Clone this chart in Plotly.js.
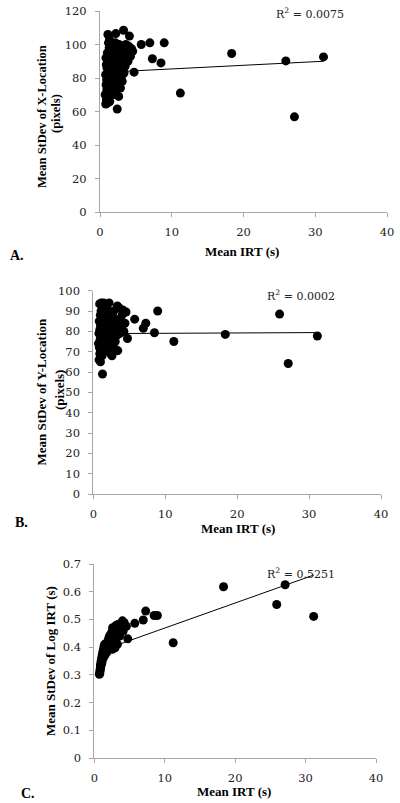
<!DOCTYPE html>
<html>
<head>
<meta charset="utf-8">
<script src="https://cdn.plot.ly/plotly-3.0.1.min.js"></script>
<style>html,body{margin:0;padding:0;background:#fff;}#chart{width:400px;height:803px;}</style>
</head>
<body>
<div id="chart"></div>
<script>
// Mean IRT (s) per participant (shared by all three panels)
const meanIRT = [0.72,0.78,0.80,0.83,0.85,0.88,0.90,0.92,0.95,0.97,
  1.00,1.02,1.05,1.08,1.10,1.12,1.15,1.18,1.20,1.22,
  1.25,1.28,1.30,1.33,1.36,1.40,1.42,1.45,1.48,1.52,
  1.55,1.58,1.62,1.65,1.70,1.74,1.78,1.82,1.86,1.90,
  1.95,2.00,2.05,2.10,2.15,2.20,2.25,2.30,2.35,2.40,
  2.45,2.50,2.55,2.60,2.65,2.70,2.75,2.80,2.85,2.90,
  2.95,3.00,3.05,3.10,3.15,3.20,3.28,3.35,3.40,3.50,
  3.60,3.70,3.80,3.90,4.00,4.10,4.25,4.40,4.55,
  4.75,5.75,6.95,7.30,8.50,8.95,11.2,18.35,25.9,27.1,31.15];

// Panel A: Mean StDev of X-Location (pixels)
const sdXLoc = [70,82,64.5,92,76,88,67,79,73,86,
  65,95,71,83,106,77,90,101,69,85,
  74,98,80,103,66,88,93,75,97,82,
  72,100,86,78,94,70,84,99,76,89,
  81,96,73,87,101,106.5,79,92,84,61.5,
  99,76,88,69,100,82,96,86,74,91,
  80,97,85,78,89,99,108.5,83,93,87,
  100,95,98,90,99,105,93,97.5,96,
  83.5,100,101,91.5,89,101,71,94.6,90.2,56.8,92.6];

// Panel B: Mean StDev of Y-Location (pixels)
const sdYLoc = [74,79,66,85,72,93.5,69,81,76,88,
  65,83,71,90,94,77,86,73,80,68,
  92,59,84,75,89,78,94,70,82,87,
  74,91,79,84,71,88,77,82,93,75,
  86,80,72,90,78,94,83,76,88,69,
  81,85,74,68,87,79,83,72,90,77,
  85,80,75,86,71,82,78,92.5,70.5,84,
  91.5,79,86,81,88,90.5,80,84,89.5,
  76.5,86,81.5,84,79.3,90,75,78.5,88.5,64.2,77.7];

// Panel C: Mean StDev of Log IRT (s)
const sdLogIRT = [0.302,0.305,0.312,0.318,0.322,0.330,0.336,0.328,0.342,0.348,
  0.352,0.338,0.358,0.345,0.362,0.370,0.355,0.375,0.366,0.382,
  0.360,0.388,0.372,0.395,0.380,0.405,0.368,0.392,0.410,0.385,
  0.398,0.375,0.412,0.390,0.402,0.380,0.415,0.395,0.408,0.388,
  0.420,0.400,0.432,0.412,0.440,0.395,0.425,0.445,0.408,0.435,
  0.418,0.455,0.392,0.470,0.428,0.448,0.405,0.462,0.438,0.472,
  0.398,0.452,0.425,0.478,0.442,0.465,0.410,0.482,0.455,0.470,
  0.440,0.485,0.462,0.478,0.495,0.458,0.488,0.475,0.475,
  0.430,0.486,0.498,0.530,0.514,0.514,0.416,0.618,0.554,0.625,0.511];

// Linear trendlines (endpoints)
const trendX = [0.72, 31.15];
const trendA = [83.4, 90.0];
const trendB = [78.9, 79.4];
const trendC = [0.385, 0.66];

const r2Labels = ["R<sup>2</sup> = 0.0075", "R<sup>2</sup> = 0.0002", "R<sup>2</sup> = 0.5251"];
const yTitles = ["Mean StDev of X-Location", "Mean StDev of Y-Location", "Mean StDev of Log IRT (s)"];
const yUnit = "(pixels)";
const xTitle = "Mean IRT (s)";
const panelLabels = ["A.", "B.", "C."];

const W = 400, H = 803;
const px = v => v / W;
const py = v => 1 - v / H;

const mk = {color: '#000', size: 9};
const data = [
  {x: meanIRT, y: sdXLoc, type: 'scatter', mode: 'markers', marker: mk, xaxis: 'x', yaxis: 'y', cliponaxis: false},
  {x: trendX, y: trendA, type: 'scatter', mode: 'lines', line: {color: '#000', width: 1}, xaxis: 'x', yaxis: 'y'},
  {x: meanIRT, y: sdYLoc, type: 'scatter', mode: 'markers', marker: mk, xaxis: 'x2', yaxis: 'y2', cliponaxis: false},
  {x: trendX, y: trendB, type: 'scatter', mode: 'lines', line: {color: '#000', width: 1}, xaxis: 'x2', yaxis: 'y2'},
  {x: meanIRT, y: sdLogIRT, type: 'scatter', mode: 'markers', marker: mk, xaxis: 'x3', yaxis: 'y3', cliponaxis: false},
  {x: trendX, y: trendC, type: 'scatter', mode: 'lines', line: {color: '#000', width: 1}, xaxis: 'x3', yaxis: 'y3'}
];

const tickFont = {family: 'DejaVu Serif', size: 11.5, color: '#222'};
const axisBase = {showgrid: false, zeroline: false, showline: true, linecolor: '#a6a6a6', linewidth: 1,
  ticks: 'outside', ticklen: 4, tickcolor: '#a6a6a6', tickfont: tickFont, fixedrange: true};

function xa(d, anchor) { return Object.assign({}, axisBase, {domain: d, anchor: anchor, range: [0, 40], dtick: 10, tick0: 0, ticklabelstandoff: 5}); }
function ya(d, anchor, r, dt, so) { return Object.assign({}, axisBase, {domain: d, anchor: anchor, range: r, dtick: dt, tick0: 0, ticklabelstandoff: so}); }

const titleFont = {family: 'Liberation Serif', size: 13, color: '#000', weight: 'bold'};
function ann(text, x, y, font, angle) {
  return {text: text, x: px(x), y: py(y), xref: 'paper', yref: 'paper', xanchor: 'center', yanchor: 'middle',
    showarrow: false, font: font, textangle: angle || 0};
}
const r2Font = {family: 'DejaVu Serif', size: 11, color: '#222'};
const labFont = {family: 'Liberation Serif', size: 14, color: '#000', weight: 'bold'};

const layout = {
  width: W, height: H, margin: {l: 0, r: 0, t: 0, b: 0},
  paper_bgcolor: '#fff', plot_bgcolor: '#fff', showlegend: false,
  xaxis: xa([px(100), px(387)], 'y'),
  yaxis: ya([py(212), py(11)], 'x', [0, 120], 20, 6),
  xaxis2: xa([px(93.3), px(381)], 'y2'),
  yaxis2: ya([py(494), py(290.7)], 'x2', [0, 100], 10, 6),
  xaxis3: xa([px(94.3), px(376)], 'y3'),
  yaxis3: ya([py(758), py(564)], 'x3', [0, 0.7], 0.1, 6),
  annotations: [
    ann(r2Labels[0], 310, 14, r2Font),
    ann(r2Labels[1], 301, 295, r2Font),
    ann(r2Labels[2], 301, 573, r2Font),
    ann(xTitle, 242.5, 252, titleFont),
    ann(xTitle, 238, 528, titleFont),
    ann(xTitle, 234, 791, titleFont),
    ann(yTitles[0], 42, 117, Object.assign({}, titleFont, {size: 12.5}), -90),
    ann(yUnit, 56, 114, Object.assign({}, titleFont, {size: 12.5}), -90),
    ann(yTitles[1], 41.5, 392, titleFont, -90),
    ann(yUnit, 60, 390, titleFont, -90),
    ann(yTitles[2], 50, 661, titleFont, -90),
    ann(panelLabels[0], 16.5, 256, labFont),
    ann(panelLabels[1], 21, 522, labFont),
    ann(panelLabels[2], 28.5, 793, labFont)
  ]
};

Plotly.newPlot('chart', data, layout, {staticPlot: true, displayModeBar: false});
</script>
</body>
</html>
